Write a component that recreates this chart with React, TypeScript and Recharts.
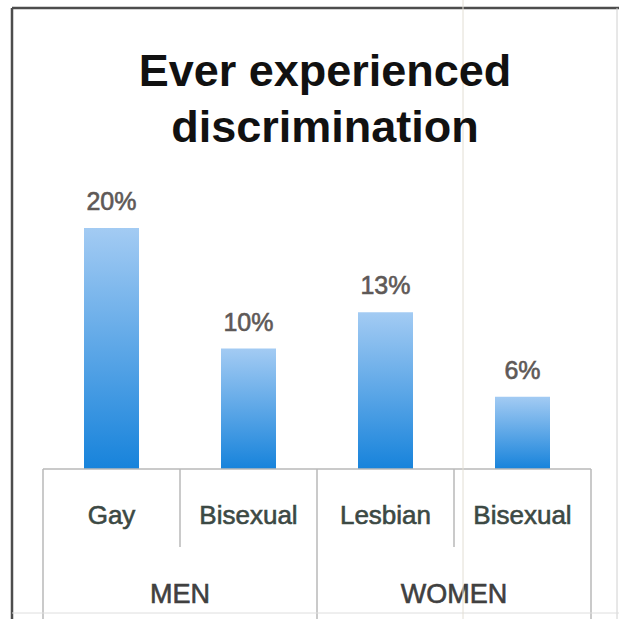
import { Bar, BarChart, LabelList, XAxis, YAxis } from 'recharts'

const categories = ['Gay', 'Bisexual', 'Lesbian', 'Bisexual']
const groups = ['MEN', 'MEN', 'WOMEN', 'WOMEN']
const values = [20, 10, 13, 6]

const data = categories.map((label, i) => ({
  label,
  group: groups[i],
  value: values[i],
}))

const FONT = '"Liberation Sans", Arial, sans-serif'
const LINE = '#b9b9b9'

// One cell of the two-row table under the bars: category name, the separators
// around it, and the group name under the first cell of each group.
function TableTick(props: any) {
  const { x, y, payload } = props
  const i: number = payload.index
  const off: number = payload.offset ?? 68.5
  const lastOfGroup = i === groups.length - 1 || groups[i + 1] !== groups[i]
  const firstOfGroup = i === 0 || groups[i - 1] !== groups[i]
  const groupSize = groups.filter((g) => g === groups[i]).length

  return (
    <g>
      {i === 0 && (
        <line x1={x - off} x2={x - off} y1={y} y2={y + 150} stroke={LINE} strokeWidth={1.5} />
      )}
      <line
        x1={x + off}
        x2={x + off}
        y1={y}
        y2={lastOfGroup ? y + 150 : y + 78}
        stroke={LINE}
        strokeWidth={1.5}
      />
      <text
        x={x}
        y={y + 55}
        textAnchor="middle"
        fontFamily={FONT}
        fontSize={26}
        fill="#3c4944"
        stroke="#3c4944"
        strokeWidth={0.6}
      >
        {payload.value}
      </text>
      {firstOfGroup && (
        <text
          x={x - off + groupSize * off}
          y={y + 134}
          textAnchor="middle"
          fontFamily={FONT}
          fontSize={27}
          fill="#404040"
          stroke="#404040"
          strokeWidth={0.6}
        >
          {groups[i]}
        </text>
      )}
    </g>
  )
}

export default function App() {
  return (
    <div
      style={{
        position: 'absolute',
        left: 0,
        top: 0,
        width: 619,
        height: 619,
        background: '#fff',
      }}
    >
      <BarChart
        width={619}
        height={619}
        data={data}
        margin={{ top: 228, right: 28, bottom: 0, left: 43 }}
      >
        <defs>
          <linearGradient id="barFill" x1="0" y1="0" x2="0" y2="1">
            <stop offset="0%" stopColor="#a3cbf3" />
            <stop offset="100%" stopColor="#1783db" />
          </linearGradient>
        </defs>
        <YAxis hide domain={[0, 20]} />
        <XAxis
          dataKey="label"
          height={150}
          interval={0}
          tickSize={0}
          tickMargin={0}
          tickLine={false}
          axisLine={{ stroke: LINE, strokeWidth: 1.5 }}
          tick={<TableTick />}
        />
        <Bar dataKey="value" fill="url(#barFill)" barSize={55} isAnimationActive={false}>
          <LabelList
            dataKey="value"
            position="top"
            offset={18}
            formatter={(v: any) => `${v}%`}
            fill="#5e5957"
            stroke="#5e5957"
            strokeWidth={0.6}
            fontSize={25}
            fontFamily={FONT}
          />
        </Bar>
      </BarChart>

      <svg
        width={619}
        height={619}
        style={{ position: 'absolute', left: 0, top: 0, pointerEvents: 'none' }}
      >
        <line x1={12} x2={12} y1={8} y2={619} stroke="#4d4d4d" strokeWidth={2.5} />
        <line x1={12} x2={619} y1={8} y2={8} stroke="#4d4d4d" strokeWidth={2.5} />
        <line x1={617} x2={617} y1={8} y2={619} stroke="#d0d0d0" strokeWidth={1} />
        <line x1={12} x2={619} y1={613} y2={613} stroke="#dedede" strokeWidth={1} />
        <line x1={463} x2={463} y1={0} y2={619} stroke="#e2ded4" strokeWidth={1} />
        <text
          x={325}
          y={86}
          textAnchor="middle"
          fontFamily={FONT}
          fontWeight="bold"
          fontSize={45}
          fill="#111"
        >
          Ever experienced
        </text>
        <text
          x={325}
          y={142}
          textAnchor="middle"
          fontFamily={FONT}
          fontWeight="bold"
          fontSize={45}
          fill="#111"
        >
          discrimination
        </text>
      </svg>
    </div>
  )
}
